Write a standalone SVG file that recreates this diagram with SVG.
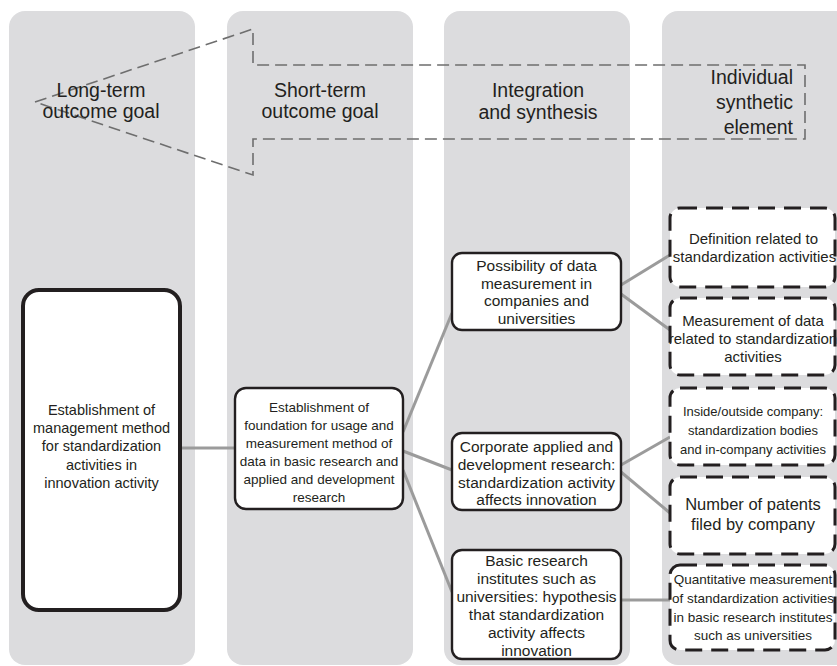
<svg xmlns="http://www.w3.org/2000/svg" width="837" height="666" viewBox="0 0 837 666">
<style>
.col{fill:#dcdcde}
.hdr{font-family:"Liberation Sans",Arial,sans-serif;font-size:19.5px;fill:#231f20}
.t{font-family:"Liberation Sans",Arial,sans-serif;fill:#231f20;text-anchor:middle}
.box{fill:#fff;stroke:#231f20;stroke-width:2.4}
.thick{fill:#fff;stroke:#231f20;stroke-width:4}
.dbox{fill:#fff;stroke:#231f20;stroke-width:3;stroke-dasharray:17 9}
.con{stroke:#9b9b9b;stroke-width:3;fill:none}
.arrow{fill:none;stroke:#6e6e6e;stroke-width:1.6;stroke-dasharray:12 6}
</style>
<rect width="837" height="666" fill="#fff"/>
<g id="columns">
<rect class="col" x="9" y="11" width="186" height="654" rx="16"/>
<rect class="col" x="227" y="11" width="186" height="654" rx="16"/>
<rect class="col" x="444" y="11" width="186" height="654" rx="16"/>
<rect class="col" x="662" y="11" width="190" height="654" rx="16"/>
</g>
<g id="header-arrow">
<polygon class="arrow" points="35,102 253,29 253,65 805,65 805,139 253,139 253,175"/>
</g>
<g id="headers">
<text class="hdr" text-anchor="middle" x="101" y="97">Long-term</text>
<text class="hdr" text-anchor="middle" x="101" y="118">outcome goal</text>
<text class="hdr" text-anchor="middle" x="320" y="97">Short-term</text>
<text class="hdr" text-anchor="middle" x="320" y="118">outcome goal</text>
<text class="hdr" text-anchor="middle" x="538" y="97">Integration</text>
<text class="hdr" text-anchor="middle" x="538" y="119">and synthesis</text>
<text class="hdr" text-anchor="end" x="793" y="84">Individual</text>
<text class="hdr" text-anchor="end" x="793" y="109">synthetic</text>
<text class="hdr" text-anchor="end" x="793" y="134">element</text>
</g>
<g id="connectors">
<line class="con" x1="180" y1="448" x2="235" y2="448"/>
<line class="con" x1="403" y1="432" x2="452" y2="313"/>
<line class="con" x1="403" y1="451" x2="452" y2="470"/>
<line class="con" x1="403" y1="470" x2="452" y2="592"/>
<line class="con" x1="621" y1="285" x2="670" y2="255"/>
<line class="con" x1="621" y1="294" x2="670" y2="330"/>
<line class="con" x1="621" y1="465" x2="670" y2="437"/>
<line class="con" x1="621" y1="472" x2="670" y2="513"/>
<line class="con" x1="621" y1="600" x2="670" y2="600"/>
</g>
<g id="node-long-term">
<rect class="thick" x="23" y="290" width="157" height="320" rx="16"/>
<text class="t" font-size="14.5" x="101.5"><tspan x="101.5" y="415">Establishment of</tspan><tspan x="101.5" y="433">management method</tspan><tspan x="101.5" y="451">for standardization</tspan><tspan x="101.5" y="469.5">activities in</tspan><tspan x="101.5" y="487.5">innovation activity</tspan></text>
</g>
<g id="node-short-term">
<rect class="box" x="235" y="388" width="168" height="121" rx="11"/>
<text class="t" font-size="13.5"><tspan x="319" y="412">Establishment of</tspan><tspan x="319" y="430">foundation for usage and</tspan><tspan x="319" y="448">measurement method of</tspan><tspan x="319" y="466">data in basic research and</tspan><tspan x="319" y="484">applied and development</tspan><tspan x="319" y="502">research</tspan></text>
</g>
<g id="node-possibility">
<rect class="box" x="452" y="253" width="169" height="77" rx="10"/>
<text class="t" font-size="15.5"><tspan x="536.5" y="271">Possibility of data</tspan><tspan x="536.5" y="288.5">measurement in</tspan><tspan x="536.5" y="306">companies and</tspan><tspan x="536.5" y="323.5">universities</tspan></text>
</g>
<g id="node-corporate">
<rect class="box" x="452" y="433" width="169" height="77" rx="10"/>
<text class="t" font-size="15.5"><tspan x="536.5" y="452">Corporate applied and</tspan><tspan x="536.5" y="470">development research:</tspan><tspan x="536.5" y="488">standardization activity</tspan><tspan x="536.5" y="505">affects innovation</tspan></text>
</g>
<g id="node-basic">
<rect class="box" x="452" y="550" width="169" height="109" rx="10"/>
<text class="t" font-size="15.5"><tspan x="536.5" y="566">Basic research</tspan><tspan x="536.5" y="584">institutes such as</tspan><tspan x="536.5" y="602">universities: hypothesis</tspan><tspan x="536.5" y="620">that standardization</tspan><tspan x="536.5" y="638">activity affects</tspan><tspan x="536.5" y="656">innovation</tspan></text>
</g>
<g id="node-definition">
<rect class="dbox" x="670" y="208" width="165" height="79" rx="10"/>
<text class="t" font-size="15"><tspan x="753.5" y="244">Definition related to</tspan><tspan x="754.5" y="262">standardization activities</tspan></text>
</g>
<g id="node-measurement">
<rect class="dbox" x="670" y="298" width="165" height="77" rx="10"/>
<text class="t" font-size="15"><tspan x="753" y="326">Measurement of data</tspan><tspan x="753" y="344">related to standardization</tspan><tspan x="753" y="362">activities</tspan></text>
</g>
<g id="node-inside-outside">
<rect class="dbox" x="670" y="388" width="165" height="77" rx="10"/>
<text class="t" font-size="13"><tspan x="753" y="416">Inside/outside company:</tspan><tspan x="753" y="435">standardization bodies</tspan><tspan x="753" y="454">and in-company activities</tspan></text>
</g>
<g id="node-patents">
<rect class="dbox" x="670" y="477" width="165" height="77" rx="10"/>
<text class="t" font-size="16.5"><tspan x="753" y="510">Number of patents</tspan><tspan x="753" y="530">filed by company</tspan></text>
</g>
<g id="node-quantitative">
<rect class="dbox" x="670" y="565" width="165" height="85" rx="10"/>
<text class="t" font-size="13.5"><tspan x="753" y="584">Quantitative measurement</tspan><tspan x="753" y="603">of standardization activities</tspan><tspan x="753" y="621.5">in basic research institutes</tspan><tspan x="753" y="640">such as universities</tspan></text>
</g>
</svg>
